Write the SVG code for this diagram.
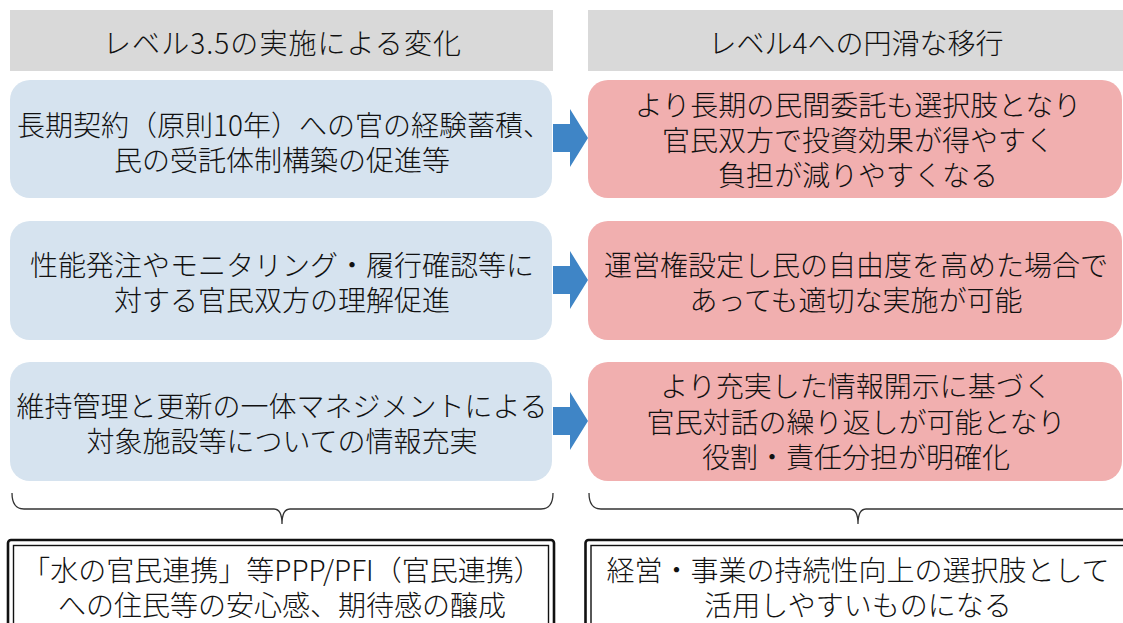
<svg xmlns="http://www.w3.org/2000/svg" width="1123" height="623" viewBox="0 0 1123 623">
<style>
text{font-family:"Noto Sans CJK JP","Noto Sans",sans-serif;font-size:28px;font-weight:300;fill:#111;text-anchor:middle}
.hdr{fill:#D9D9D9}
.blue{fill:#D6E3EF}
.pink{fill:#F1AFAF}
.arrow{fill:#3F85C6}
.brace{fill:none;stroke:#333;stroke-width:1.3}
.outer{fill:#fff;stroke:#111;stroke-width:2.6}
.inner{fill:none;stroke:#111;stroke-width:1.4}
</style>
<rect width="1123" height="623" fill="#fff"/>
<g id="header-left"><rect class="hdr" x="10" y="10" width="543" height="61"/><text x="282" y="54" textLength="358" lengthAdjust="spacing">レベル3.5の実施による変化</text></g>
<g id="header-right"><rect class="hdr" x="588" y="10" width="535" height="61"/><text x="856" y="54">レベル4への円滑な移行</text></g>

<g id="left-1"><rect class="blue" x="10" y="80" width="542" height="118" rx="20"/>
<text><tspan x="284" y="136">長期契約（原則10年）への官の経験蓄積、</tspan><tspan x="282" y="171">民の受託体制構築の促進等</tspan></text></g>
<g id="left-2"><rect class="blue" x="10" y="221" width="542" height="119" rx="20"/>
<text><tspan x="282" y="276">性能発注やモニタリング・履行確認等に</tspan><tspan x="282" y="311">対する官民双方の理解促進</tspan></text></g>
<g id="left-3"><rect class="blue" x="10" y="362" width="542" height="119" rx="20"/>
<text><tspan x="282" y="417">維持管理と更新の一体マネジメントによる</tspan><tspan x="282" y="452">対象施設等についての情報充実</tspan></text></g>

<g id="right-1"><rect class="pink" x="588" y="80" width="534" height="118" rx="20"/>
<text><tspan x="858" y="116">より長期の民間委託も選択肢となり</tspan><tspan x="858" y="151">官民双方で投資効果が得やすく</tspan><tspan x="858" y="186">負担が減りやすくなる</tspan></text></g>
<g id="right-2"><rect class="pink" x="588" y="221" width="534" height="119" rx="20"/>
<text><tspan x="856" y="276">運営権設定し民の自由度を高めた場合で</tspan><tspan x="856" y="311">あっても適切な実施が可能</tspan></text></g>
<g id="right-3"><rect class="pink" x="588" y="362" width="534" height="119" rx="20"/>
<text><tspan x="856" y="397">より充実した情報開示に基づく</tspan><tspan x="856" y="433">官民対話の繰り返しが可能となり</tspan><tspan x="856" y="468">役割・責任分担が明確化</tspan></text></g>

<g id="connectors">
<path class="arrow" d="M553 124H570V109L588 138L570 167V152H553Z"/>
<path class="arrow" d="M553 266H570V251L588 280L570 309V294H553Z"/>
<path class="arrow" d="M553 407H570V392L588 421L570 450V435H553Z"/>
<path class="brace" d="M12 493Q12 509 24 509H274Q282 509 282 524Q282 509 290 509H541Q553 509 553 493"/>
<path class="brace" d="M589 493Q589 509 601 509H850Q858 509 858 524Q858 509 866 509H1130"/>
</g>

<g id="bottom-left"><rect class="outer" x="8" y="540" width="546" height="110" rx="3"/><rect class="inner" x="13.5" y="545.5" width="535" height="100"/>
<text><tspan x="282" y="581">「水の官民連携」等PPP/PFI（官民連携）</tspan><tspan x="282" y="616">への住民等の安心感、期待感の醸成</tspan></text></g>
<g id="bottom-right"><rect class="outer" x="585.5" y="540" width="560" height="110" rx="3"/><rect class="inner" x="591" y="545.5" width="550" height="100"/>
<text><tspan x="858" y="581">経営・事業の持続性向上の選択肢として</tspan><tspan x="858" y="616">活用しやすいものになる</tspan></text></g>
</svg>
